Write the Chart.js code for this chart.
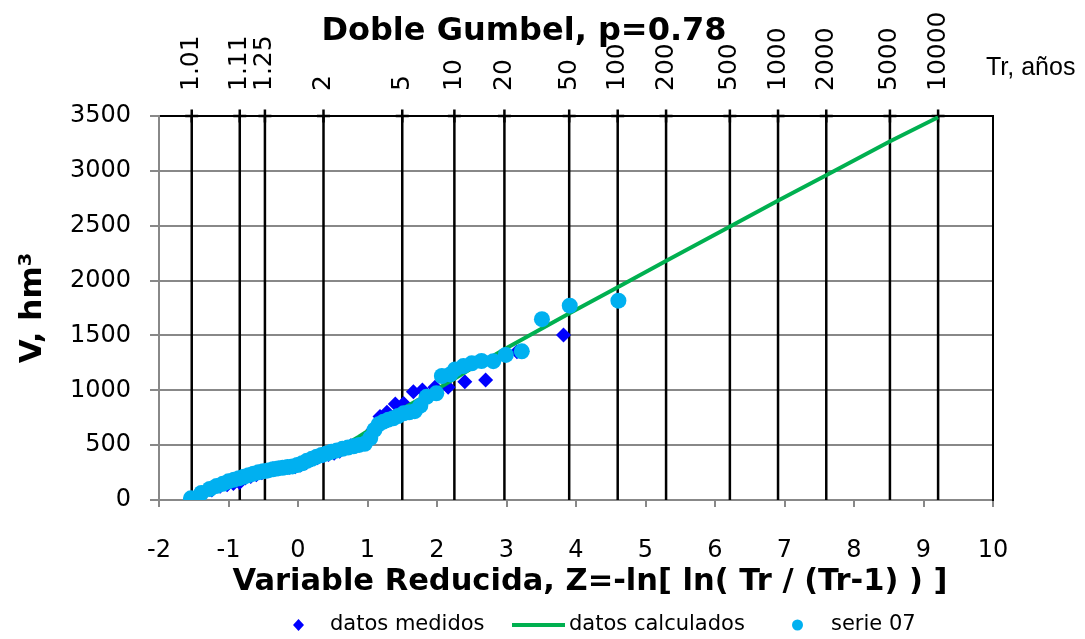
<!DOCTYPE html>
<html>
<head>
<meta charset="utf-8">
<script src="https://cdn.jsdelivr.net/npm/chart.js@4/dist/chart.umd.min.js"></script>
<style>
html, body { margin: 0; padding: 0; background: #fff; }
#wrap { width: 1085px; height: 639px; }
</style>
</head>
<body>
<div id="wrap"><canvas id="c" width="1085" height="639"></canvas></div>
<script>
// Return periods shown on the top axis and their reduced-variable positions
const trLabels = ['1.01', '1.11', '1.25', '2', '5', '10', '20', '50', '100', '200', '500', '1000', '2000', '5000', '10000'];
const trZ = [-1.529, -0.838, -0.476, 0.367, 1.500, 2.250, 2.970, 3.902, 4.600, 5.296, 6.214, 6.907, 7.601, 8.517, 9.210];

// Measured volumes (hm3) against reduced variable Z
const medZ = [-1.52, -1.37, -1.24, -1.12, -1.02, -0.93, -0.84, -0.76, -0.68, -0.60, -0.52, -0.44, -0.36, -0.28, -0.20, -0.12, -0.04,
              0.04, 0.12, 0.20, 0.28, 0.36, 0.44, 0.52, 0.60, 0.68, 0.76, 0.84, 0.92, 1.00, 1.08, 1.18, 1.28,
              1.40, 1.52, 1.66, 1.79, 1.97, 2.16, 2.40, 2.70, 3.15, 3.82];
const medV = [18, 60, 92, 125, 140, 150, 160, 200, 215, 230, 248, 265, 285, 292, 295, 298, 302,
              318, 340, 368, 385, 400, 415, 425, 445, 470, 495, 510, 525, 560, 640, 760, 800,
              875, 880, 987, 1003, 1027, 1027, 1078, 1094, 1352, 1504];

// Series 07 volumes (hm3) against reduced variable Z
const serZ = [-1.54, -1.39, -1.27, -1.17, -1.08, -1.00, -0.92, -0.85, -0.78, -0.71, -0.64, -0.57, -0.50, -0.43, -0.36, -0.29, -0.22,
              -0.15, -0.08, -0.01, 0.06, 0.13, 0.20, 0.27, 0.34, 0.41, 0.48, 0.56, 0.64, 0.72, 0.80, 0.88, 0.96,
              1.04, 1.10, 1.16, 1.23, 1.30, 1.37, 1.44, 1.52, 1.60, 1.68, 1.76, 1.85, 1.99, 2.07, 2.19, 2.26,
              2.38, 2.50, 2.64, 2.81, 2.99, 3.22, 3.51, 3.91, 4.61];
const serV = [15, 64, 100, 128, 148, 170, 185, 198, 212, 226, 240, 252, 262, 270, 280, 288, 294,
              300, 306, 318, 335, 358, 375, 395, 410, 424, 440, 452, 466, 478, 490, 502, 512,
              565, 640, 690, 714, 732, 745, 765, 790, 800, 810, 860, 940, 972, 1130, 1145, 1190,
              1221, 1246, 1267, 1265, 1322, 1355, 1648, 1771, 1817];

// Fitted double Gumbel curve (p = 0.78)
const calcZ = [-1.53, -1.2, -0.84, -0.48, -0.1, 0.37, 0.6, 0.87, 1.5, 2.0, 2.5, 2.97, 3.9, 4.6, 5.3, 6.21, 6.91, 7.6, 8.52, 9.21];
const calcV = [40, 105, 175, 245, 315, 420, 475, 575, 830, 1010, 1200, 1375, 1700, 1940, 2180, 2490, 2730, 2960, 3270, 3488];

const chartTitle = 'Doble Gumbel, p=0.78';
const xTitle = 'Variable Reducida, Z=-ln[ ln( Tr / (Tr-1) ) ]';
const yTitle = 'V, hm³';
const trAxisName = 'Tr, años';

const pts = (xs, ys) => xs.map((x, i) => ({ x: x, y: ys[i] }));
const FONT = '"DejaVu Sans", Verdana, sans-serif';

const datasets = [
  {
    label: 'datos medidos',
    data: pts(medZ, medV),
    showLine: false,
    pointStyle: 'rectRot',
    pointRadius: 7.5,
    pointBackgroundColor: '#0000FF',
    pointBorderColor: '#0000FF',
    pointBorderWidth: 0,
    order: 2
  },
  {
    label: 'datos calculados',
    data: pts(calcZ, calcV),
    showLine: true,
    borderColor: '#00B050',
    borderWidth: 4,
    pointRadius: 0,
    tension: 0,
    order: 1
  },
  {
    label: 'serie 07',
    data: pts(serZ, serV),
    showLine: false,
    pointStyle: 'circle',
    pointRadius: 8,
    pointBackgroundColor: '#00B0F0',
    pointBorderColor: '#00B0F0',
    pointBorderWidth: 0,
    order: 0
  }
];

// One vertical line per return period, capped with a cross at the top
trZ.forEach((z, i) => {
  datasets.push({
    label: 'Tr ' + trLabels[i],
    data: [{ x: z, y: 0 }, { x: z, y: 3500 }],
    showLine: true,
    borderColor: '#000',
    borderWidth: 2.5,
    pointStyle: 'cross',
    pointRadius: [0, 6.5],
    pointBorderColor: '#000',
    pointBorderWidth: 2.5,
    clip: false,
    order: 3
  });
});

// Title, top-axis caption, x-axis title and legend
const decor = {
  id: 'decor',
  afterDraw(chart) {
    const c = chart.ctx;
    c.save();
    c.fillStyle = '#000';
    c.textBaseline = 'alphabetic';

    c.font = 'bold 32px ' + FONT;
    c.textAlign = 'center';
    c.fillText(chartTitle, 524, 40);

    c.font = '25px "Liberation Sans", Arial, sans-serif';
    c.textAlign = 'left';
    c.fillText(trAxisName, 986, 75);

    c.font = 'bold 30.5px ' + FONT;
    c.textAlign = 'center';
    c.fillText(xTitle, 590, 590);

    // legend
    const ly = 625;
    const ds = chart.data.datasets;
    c.font = '21px ' + FONT;
    c.textAlign = 'left';
    c.textBaseline = 'middle';

    c.fillStyle = ds[0].pointBackgroundColor;
    c.beginPath();
    c.moveTo(298.5, ly - 6); c.lineTo(304, ly); c.lineTo(298.5, ly + 6); c.lineTo(293, ly);
    c.closePath(); c.fill();
    c.fillStyle = '#000';
    c.fillText(ds[0].label, 330, ly);

    c.strokeStyle = ds[1].borderColor;
    c.lineWidth = 4;
    c.beginPath(); c.moveTo(512, ly); c.lineTo(565, ly); c.stroke();
    c.fillText(ds[1].label, 569, ly);

    c.fillStyle = ds[2].pointBackgroundColor;
    c.beginPath(); c.arc(797.5, ly, 5.5, 0, Math.PI * 2); c.fill();
    c.fillStyle = '#000';
    c.fillText(ds[2].label, 831, ly);
    c.restore();
  }
};

new Chart(document.getElementById('c'), {
  type: 'scatter',
  data: { datasets: datasets },
  plugins: [decor],
  options: {
    responsive: false,
    animation: false,
    events: [],
    layout: { padding: { left: 0, right: 92, top: 0, bottom: 0 } },
    plugins: {
      legend: { display: false },
      tooltip: { enabled: false },
      title: { display: false }
    },
    scales: {
      x: {
        type: 'linear',
        position: 'bottom',
        min: -2, max: 10,
        ticks: { stepSize: 1, color: '#000', font: { family: FONT, size: 24 }, padding: 29, callback: v => String(v) },
        grid: { drawOnChartArea: false, color: '#888', tickColor: '#888', lineWidth: 2, tickLength: 7 },
        border: { color: '#888', width: 2 },
        afterFit: s => { s.height = 139; }
      },
      x2: {
        type: 'linear',
        position: 'top',
        min: -2, max: 10,
        afterBuildTicks: s => { s.ticks = trZ.map(v => ({ value: v })); },
        ticks: {
          autoSkip: false, minRotation: 90, maxRotation: 90,
          color: '#000', font: { family: FONT, size: 25 }, padding: 25, labelOffset: 30,
          callback: (v, i) => trLabels[i]
        },
        grid: { display: false, drawTicks: false },
        border: { display: true, color: '#000', width: 2 },
        afterFit: s => { s.height = 116; }
      },
      y: {
        type: 'linear',
        position: 'left',
        min: 0, max: 3500,
        ticks: { stepSize: 500, color: '#000', font: { family: FONT, size: 24 }, padding: 19, callback: v => String(v) },
        grid: { color: '#888', tickColor: '#888', lineWidth: 2, tickLength: 9 },
        border: { color: '#888', width: 2 },
        title: {
          display: true, text: yTitle, color: '#000',
          font: { family: FONT, size: 31, weight: 'bold' },
          padding: { top: 14, bottom: 0 }
        },
        afterFit: s => { s.width = 159; }
      },
      y2: {
        type: 'linear',
        position: 'right',
        min: 0, max: 3500,
        ticks: { display: false },
        grid: { display: false, drawTicks: false },
        border: { display: true, color: '#000', width: 2 },
        afterFit: s => { s.width = 0; }
      }
    }
  }
});
</script>
</body>
</html>
